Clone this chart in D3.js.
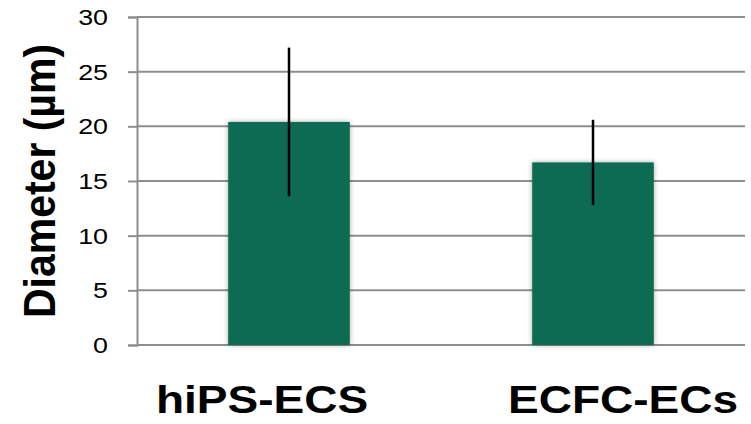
<!DOCTYPE html>
<html>
<head>
<meta charset="utf-8">
<script src="https://cdn.jsdelivr.net/npm/d3@7"></script>
<style>
  html, body { margin: 0; padding: 0; background: #fff; }
  svg { display: block; }
  text { font-family: "Liberation Sans", Arial, sans-serif; }
</style>
</head>
<body>
<svg id="chart" width="751" height="424"></svg>
<script>
// Mean cell diameter per endothelial cell source, with standard deviation
const categories = ["hiPS-ECS", "ECFC-ECs"];
const means = [20.4, 16.7];
const errors = [6.8, 3.9];
const yTicks = [0, 5, 10, 15, 20, 25, 30];
const yTitle = "Diameter (µm)";

const svg = d3.select("#chart");
const plot = { left: 137, right: 745, top: 17, bottom: 345 };

const x = d3.scaleBand().domain(categories).range([plot.left, plot.right]).padding(0);
const y = d3.scaleLinear().domain([0, 30]).range([plot.bottom, plot.top]);

// soft shadow behind the bars
const defs = svg.append("defs");
const f = defs.append("filter").attr("id", "shadow")
  .attr("x", "-20%").attr("y", "-5%").attr("width", "140%").attr("height", "110%");
f.append("feDropShadow").attr("dx", 0).attr("dy", 0)
  .attr("stdDeviation", 2.5).attr("flood-color", "#000").attr("flood-opacity", 0.35);

// horizontal gridlines
svg.append("g").selectAll("line").data(yTicks).join("line")
  .attr("x1", plot.left).attr("x2", plot.right)
  .attr("y1", d => y(d)).attr("y2", d => y(d))
  .attr("stroke", "#8e8e8e").attr("stroke-width", 2);

// y axis with outward ticks
const yAxis = svg.append("g").attr("transform", `translate(${plot.left},0)`)
  .call(d3.axisLeft(y).tickValues(yTicks).tickSize(9).tickPadding(0).tickFormat(d3.format("d")));
yAxis.select(".domain").attr("stroke", "#8e8e8e").attr("stroke-width", 2);
yAxis.selectAll(".tick line").attr("stroke", "#8e8e8e").attr("stroke-width", 2);
yAxis.selectAll(".tick text")
  .attr("x", 0).attr("dy", null)
  .attr("dominant-baseline", "central")
  .attr("font-size", 22).attr("fill", "#000")
  .attr("font-family", "Liberation Sans, Arial, sans-serif")
  .attr("text-anchor", "end")
  .attr("transform", "translate(-29,0) scale(1.22,1)");

// bars
const barW = x.bandwidth() * 0.4;
svg.append("g").selectAll("rect").data(categories).join("rect")
  .attr("x", d => x(d) + x.bandwidth() / 2 - barW / 2)
  .attr("width", barW)
  .attr("y", (d, i) => y(means[i]))
  .attr("height", (d, i) => y(0) - y(means[i]))
  .attr("fill", "#0a6b52")
  .attr("filter", "url(#shadow)");

// error bars (no caps)
svg.append("g").selectAll("line").data(categories).join("line")
  .attr("x1", d => x(d) + x.bandwidth() / 2)
  .attr("x2", d => x(d) + x.bandwidth() / 2)
  .attr("y1", (d, i) => y(means[i] + errors[i]))
  .attr("y2", (d, i) => y(means[i] - errors[i]))
  .attr("stroke", "#000").attr("stroke-width", 2.5);

// category labels
const labelShift = [-27, 30];
svg.append("g").selectAll("text").data(categories).join("text")
  .attr("transform", (d, i) =>
    `translate(${x(d) + x.bandwidth() / 2 + labelShift[i]},413) scale(1.18,1)`)
  .attr("text-anchor", "middle")
  .attr("font-size", 39).attr("font-weight", "bold").attr("fill", "#000")
  .text(d => d);

// y axis title
svg.append("text")
  .attr("transform", `translate(55,${(plot.top + plot.bottom) / 2}) rotate(-90) scale(1,1.1)`)
  .attr("text-anchor", "middle")
  .attr("font-size", 41).attr("font-weight", "bold").attr("fill", "#000")
  .text(yTitle);
</script>
</body>
</html>
